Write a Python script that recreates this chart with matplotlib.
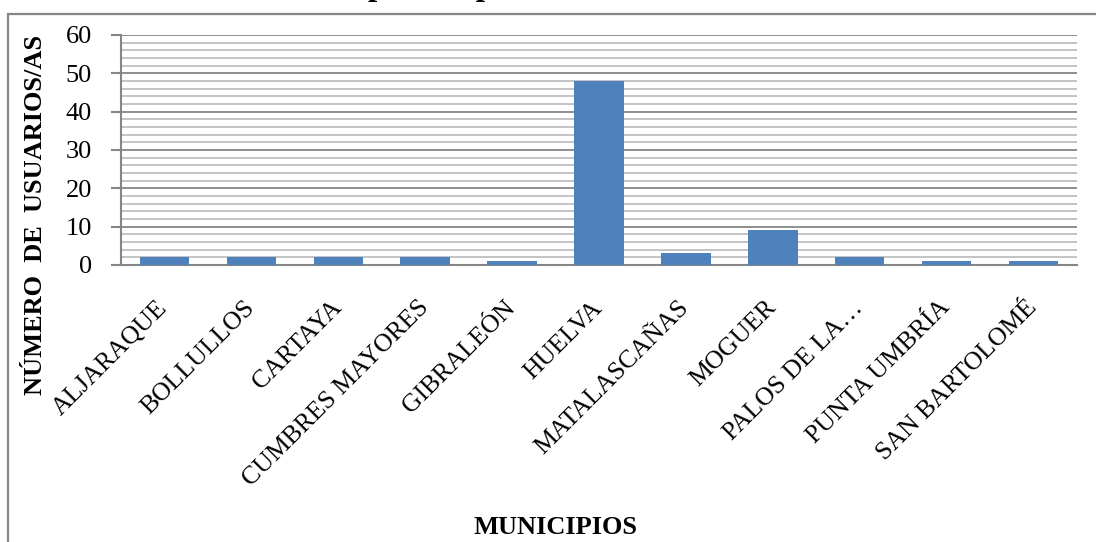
import matplotlib
matplotlib.use("Agg")
import matplotlib.pyplot as plt
from matplotlib.patches import Rectangle
from matplotlib.ticker import MultipleLocator

# ------------------------------
# Data
# ------------------------------
municipios = ["ALJARAQUE", "BOLLULLOS", "CARTAYA", "CUMBRES MAYORES", "GIBRALEÓN",
              "HUELVA", "MATALASCAÑAS", "MOGUER", "PALOS DE LA…", "PUNTA UMBRÍA",
              "SAN BARTOLOMÉ"]
usuarios = [2, 2, 2, 2, 1, 48, 3, 9, 2, 1, 1]

TITLE = "Municipios de procedencia"
Y_LABEL = "NÚMERO  DE  USUARIOS/AS"
X_LABEL = "MUNICIPIOS"

BAR_COLOR = "#4F81BD"
MAJOR_GRID = "#868686"
MINOR_GRID = "#BFBFBF"

plt.rcParams["font.family"] = ["Liberation Serif", "DejaVu Serif"]

W, H = 1096, 542
fig = plt.figure(figsize=(W / 100, H / 100), dpi=100)

# outer chart border (runs off the right / bottom of the crop)
fig.patches.append(Rectangle((8 / W, -0.2), 1.2, 1.2 - 14 / H,
                             transform=fig.transFigure, fill=False,
                             edgecolor=MAJOR_GRID, linewidth=1.6))

ax = fig.add_axes([121 / W, 1 - 265 / H, (1077 - 121) / W, (265 - 35) / H])

x = range(len(municipios))
ax.bar(x, usuarios, width=0.57, color=BAR_COLOR, zorder=3)

ax.set_xlim(-0.5, len(municipios) - 0.5)
ax.set_ylim(0, 60)
ax.yaxis.set_major_locator(MultipleLocator(10))
ax.yaxis.set_minor_locator(MultipleLocator(2))
ax.grid(which="major", axis="y", color=MAJOR_GRID, linewidth=1.3, zorder=1)
ax.grid(which="minor", axis="y", color=MINOR_GRID, linewidth=1.3, zorder=1)

for side in ["top", "right"]:
    ax.spines[side].set_visible(False)
for side in ["left", "bottom"]:
    ax.spines[side].set_color(MAJOR_GRID)
    ax.spines[side].set_linewidth(1.5)

ax.tick_params(axis="y", which="major", length=7, width=1.5, color=MAJOR_GRID,
               labelsize=19, pad=14)
ax.tick_params(axis="y", which="minor", length=0)
ax.tick_params(axis="x", length=0, pad=6)

ax.set_xticks(list(x))
ax.set_xticklabels(municipios, rotation=45, ha="right", va="center",
                   rotation_mode="anchor", fontsize=18.5)
for lbl in ax.get_xticklabels():
    lbl.set_y(-0.135)

fig.text(36 / W, 1 - 215 / H, Y_LABEL, rotation=90, ha="center", va="center",
         fontsize=19, fontweight="bold")
fig.text(555 / W, 1 - 527 / H, X_LABEL, ha="center", va="center",
         fontsize=19, fontweight="bold")
# title sits mostly above the cropped top edge, as in the source
fig.text(457 / W, 1 + 4.5 / H, TITLE, ha="center", va="baseline",
         fontsize=24, fontweight="bold")

fig.savefig("out.png", dpi=100)
